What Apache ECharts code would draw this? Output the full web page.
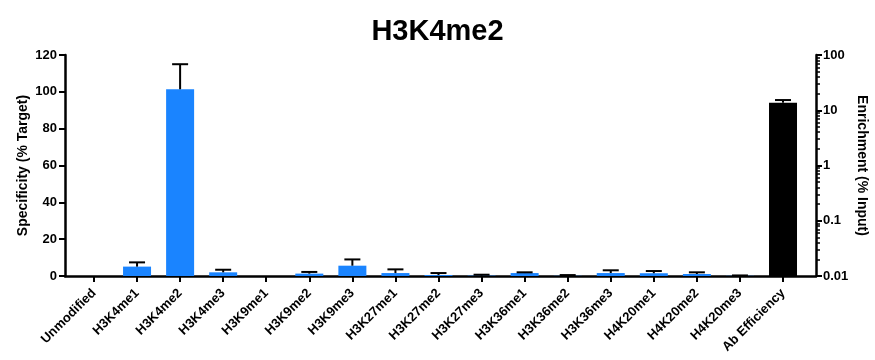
<!DOCTYPE html>
<html>
<head>
<meta charset="utf-8">
<script src="https://cdn.jsdelivr.net/npm/echarts@6/dist/echarts.min.js"></script>
<style>
html,body{margin:0;padding:0;background:#fff;}
#c{width:875px;height:360px;}
</style>
</head>
<body>
<div id="c"></div>
<script>
const title = 'H3K4me2';
const categories = ['Unmodified','H3K4me1','H3K4me2','H3K4me3','H3K9me1','H3K9me2','H3K9me3','H3K27me1','H3K27me2','H3K27me3','H3K36me1','H3K36me2','H3K36me3','H4K20me1','H4K20me2','H4K20me3','Ab Efficiency'];
const specificity = [0, 5.1, 101.4, 2.0, 0, 1.3, 5.6, 1.6, 0.5, 0.2, 1.6, 0.1, 1.6, 1.5, 1.1, 0.1];
const specificityErr = [0, 2.3, 13.6, 1.4, 0, 0.9, 3.4, 2.0, 1.1, 0.5, 0.4, 0.4, 1.5, 1.2, 0.9, 0.2];
const abEfficiency = 13.7;
const abEfficiencyErr = 1.6;
const leftTicks = [0, 20, 40, 60, 80, 100, 120];
const rightTicks = [0.01, 0.1, 1, 10, 100];

const FONT = '"Liberation Sans", Arial, Helvetica, sans-serif';
const BLUE = '#1a84ff';
const catIdx = categories.map((c, i) => i);
const abIdx = categories.length - 1;
const minorRight = [];
for (let d = 0; d < rightTicks.length - 1; d++) {
  for (let k = 2; k <= 9; k++) minorRight.push(+(rightTicks[d] * k).toPrecision(3));
}

const chart = echarts.init(document.getElementById('c'), null, {renderer: 'canvas'});

function errItem(params, api) {
  const x = api.value(0), v = api.value(1), e = api.value(2);
  if (!e) return null;
  const p0 = api.coord([x, v]);
  const p1 = api.coord([x, v + e]);
  const hw = 8;
  return {
    type: 'group',
    children: [
      {type: 'line', shape: {x1: p0[0], y1: p0[1], x2: p1[0], y2: p1[1]}, style: {stroke: '#000', lineWidth: 2}},
      {type: 'line', shape: {x1: p1[0] - hw, y1: p1[1], x2: p1[0] + hw, y2: p1[1]}, style: {stroke: '#000', lineWidth: 2}}
    ]
  };
}

const axisLineStyle = {color: '#000', width: 2.5};
const labelStyle = {color: '#000', fontFamily: FONT, fontWeight: 'bold', fontSize: 13};

chart.setOption({
  animation: false,
  backgroundColor: '#fff',
  title: {
    text: title, left: 'center', top: 12,
    textStyle: {fontFamily: FONT, fontWeight: 'bold', fontSize: 29, color: '#000'}
  },
  grid: {left: 65, right: 59, top: 55, bottom: 84, containLabel: false, outerBoundsMode: 'none'},
  xAxis: {
    type: 'value', min: -0.673, max: 16.766,
    splitLine: {show: false},
    axisLine: {show: true, onZero: false, lineStyle: axisLineStyle},
    axisTick: {show: true, customValues: catIdx, length: 6, lineStyle: {color: '#000', width: 2}},
    axisLabel: {
      customValues: catIdx, rotate: 45, margin: 15,
      formatter: v => categories[Math.round(v)],
      color: '#000', fontFamily: FONT, fontWeight: 'bold', fontSize: 13
    }
  },
  yAxis: [
    {
      type: 'value', min: 0, max: 120, interval: 20, position: 'left',
      name: 'Specificity (% Target)', nameLocation: 'middle', nameGap: 35, nameMoveOverlap: false,
      nameTextStyle: {fontFamily: FONT, fontWeight: 'bold', fontSize: 14, color: '#000'},
      splitLine: {show: false},
      axisLine: {show: true, onZero: false, lineStyle: axisLineStyle},
      axisTick: {show: true, length: 6, lineStyle: {color: '#000', width: 2}},
      axisLabel: Object.assign({margin: 8}, labelStyle)
    },
    {
      type: 'log', logBase: 10, min: 0.01, max: 100, position: 'right', offset: 0,
      name: 'Enrichment (% Input)', nameLocation: 'middle', nameGap: 39, nameRotate: -90, nameMoveOverlap: false,
      nameTextStyle: {fontFamily: FONT, fontWeight: 'bold', fontSize: 14, color: '#000'},
      splitLine: {show: false},
      axisLine: {show: true, onZero: false, lineStyle: axisLineStyle},
      axisTick: {show: true, customValues: rightTicks, length: 6, lineStyle: {color: '#000', width: 2}},
      axisLabel: Object.assign({customValues: rightTicks, margin: 7, formatter: v => String(v)}, labelStyle)
    },
    {
      type: 'log', logBase: 10, min: 0.01, max: 100, position: 'right', offset: 0,
      splitLine: {show: false},
      axisLine: {show: false, onZero: false},
      axisTick: {show: true, customValues: minorRight, length: 4, lineStyle: {color: '#000', width: 1.5}},
      axisLabel: {show: false}
    }
  ],
  series: [
    {
      type: 'bar', yAxisIndex: 0, barWidth: 28,
      itemStyle: {color: BLUE},
      data: specificity.map((v, i) => [i, v]),
      z: 2
    },
    {
      type: 'custom', yAxisIndex: 0,
      renderItem: errItem,
      data: specificity.map((v, i) => [i, v, specificityErr[i]]),
      z: 3
    },
    {
      type: 'custom', yAxisIndex: 1,
      renderItem: function (params, api) {
        const x = api.value(0), v = api.value(1), e = api.value(2);
        const top = api.coord([x, v]);
        const base = api.coord([x, rightTicks[0]]);
        const capP = api.coord([x, v + e]);
        const w = 28, hw = 8;
        return {
          type: 'group',
          children: [
            {type: 'rect', shape: {x: top[0] - w / 2, y: top[1], width: w, height: base[1] - top[1]}, style: {fill: '#000'}},
            {type: 'line', shape: {x1: top[0], y1: top[1], x2: capP[0], y2: capP[1]}, style: {stroke: '#000', lineWidth: 2}},
            {type: 'line', shape: {x1: capP[0] - hw, y1: capP[1], x2: capP[0] + hw, y2: capP[1]}, style: {stroke: '#000', lineWidth: 2}}
          ]
        };
      },
      data: [[abIdx, abEfficiency, abEfficiencyErr]],
      z: 3
    }
  ]
});
</script>
</body>
</html>
